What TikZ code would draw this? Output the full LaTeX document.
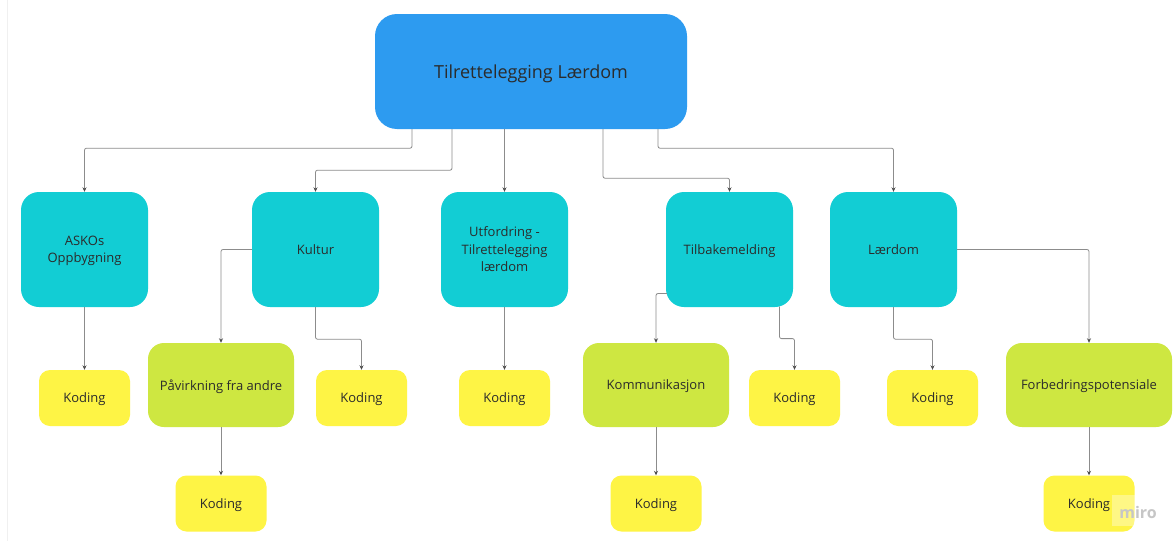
\documentclass[tikz,border=0pt]{standalone}
\usepackage{fontspec}
\setmainfont{Open Sans}
\usetikzlibrary{arrows.meta}
\definecolor{topblue}{HTML}{2D9BF0}
\definecolor{teal1}{HTML}{12CDD4}
\definecolor{green1}{HTML}{CEE741}
\definecolor{yellow1}{HTML}{FEF445}
\definecolor{txt}{HTML}{2B2B2B}
\definecolor{linec}{HTML}{8C8C8C}
\tikzset{
  base/.style={inner sep=0pt, align=center, text=txt, text depth=0pt, font=\fontsize{13}{17.5}\selectfont},
  topbox/.style={base, fill=topblue, rounded corners=22pt, minimum width=312pt, minimum height=115pt, font=\fontsize{18}{22}\selectfont},
  tealbox/.style={base, fill=teal1, rounded corners=18pt, minimum width=127pt, minimum height=115pt},
  greenbox/.style={base, fill=green1, rounded corners=16pt, minimum width=146pt, minimum height=84pt},
  yelbox/.style={base, fill=yellow1, rounded corners=11pt, minimum width=91pt, minimum height=56pt},
  conn/.style={draw=linec, line width=0.8pt, rounded corners=2pt, -{Stealth[length=4.5pt,width=4pt,color=black!70]}}
}
\begin{document}
\begin{tikzpicture}[x=1pt,y=-1pt]
\useasboundingbox (0,0) rectangle (1173,541);
\fill[white] (0,0) rectangle (1173,541);
\draw[gray!12, line width=0.8pt] (7,0) -- (7,541);
% top
\node[topbox] (top) at (531,71.5) {Tilrettelegging Lærdom};
% teal row
\node[tealbox] (askos) at (84.5,249.5) {ASKOs\\Oppbygning};
\node[tealbox] (kultur) at (315.5,249.5) {Kultur};
\node[tealbox] (utf) at (504.5,249.5) {Utfordring -\\Tilrettelegging\\lærdom};
\node[tealbox] (tilb) at (729.5,249.5) {Tilbakemelding};
\node[tealbox] (laer) at (893.5,249.5) {Lærdom};
% green row
\node[greenbox] (pav) at (221,385) {Påvirkning fra andre};
\node[greenbox] (komm) at (656,385) {Kommunikasjon};
\node[greenbox, minimum width=166pt] (forb) at (1089,385) {Forbedringspotensiale};
% yellow row 1
\node[yelbox] (k1) at (84.5,398) {Koding};
\node[yelbox] (k2) at (361.5,398) {Koding};
\node[yelbox] (k3) at (504.5,398) {Koding};
\node[yelbox] (k4) at (794.5,398) {Koding};
\node[yelbox] (k5) at (932.5,398) {Koding};
% yellow row 2
\node[yelbox] (k6) at (221,503.5) {Koding};
\node[yelbox] (k7) at (656,503.5) {Koding};
\node[yelbox] (k8) at (1089,503.5) {Koding};
% connectors from top
\draw[conn] ([xshift=-119pt]top.south) -- ++(0,19) -| (askos.north);
\draw[conn] ([xshift=-79pt]top.south) -- ++(0,41) -| (kultur.north);
\draw[conn] (top.south -| utf.north) -- (utf.north);
\draw[conn] ([xshift=72pt]top.south) -- ++(0,49) -| (tilb.north);
\draw[conn] ([xshift=127pt]top.south) -- ++(0,19) -| (laer.north);
% second level
\draw[conn] (askos.south) -- (k1.north);
\draw[conn] (kultur.west) -| (pav.north);
\draw[conn] (kultur.south) -- ++(0,32) -| (k2.north);
\draw[conn] (utf.south) -- (k3.north);
\draw[conn] ([xshift=1pt,yshift=-44pt]tilb.west) -| (komm.north);
\draw[conn] ([xshift=50pt,yshift=0.6pt]tilb.south) -- ++(0,32) -| (k4.north);
\draw[conn] (laer.south) -- ++(0,32) -| (k5.north);
\draw[conn] (laer.east) -| (forb.north);
% third level
\draw[conn] (pav.south) -- (k6.north);
\draw[conn] (komm.south) -- (k7.north);
\draw[conn] (forb.south) -- (k8.north);
% watermark
\fill[white, opacity=0.35] (1112,495) rectangle (1160,526);
\node[text=gray!45, font=\fontsize{16}{18}\selectfont\bfseries] (miro) at (1138,512) {miro};
\end{tikzpicture}
\end{document}
